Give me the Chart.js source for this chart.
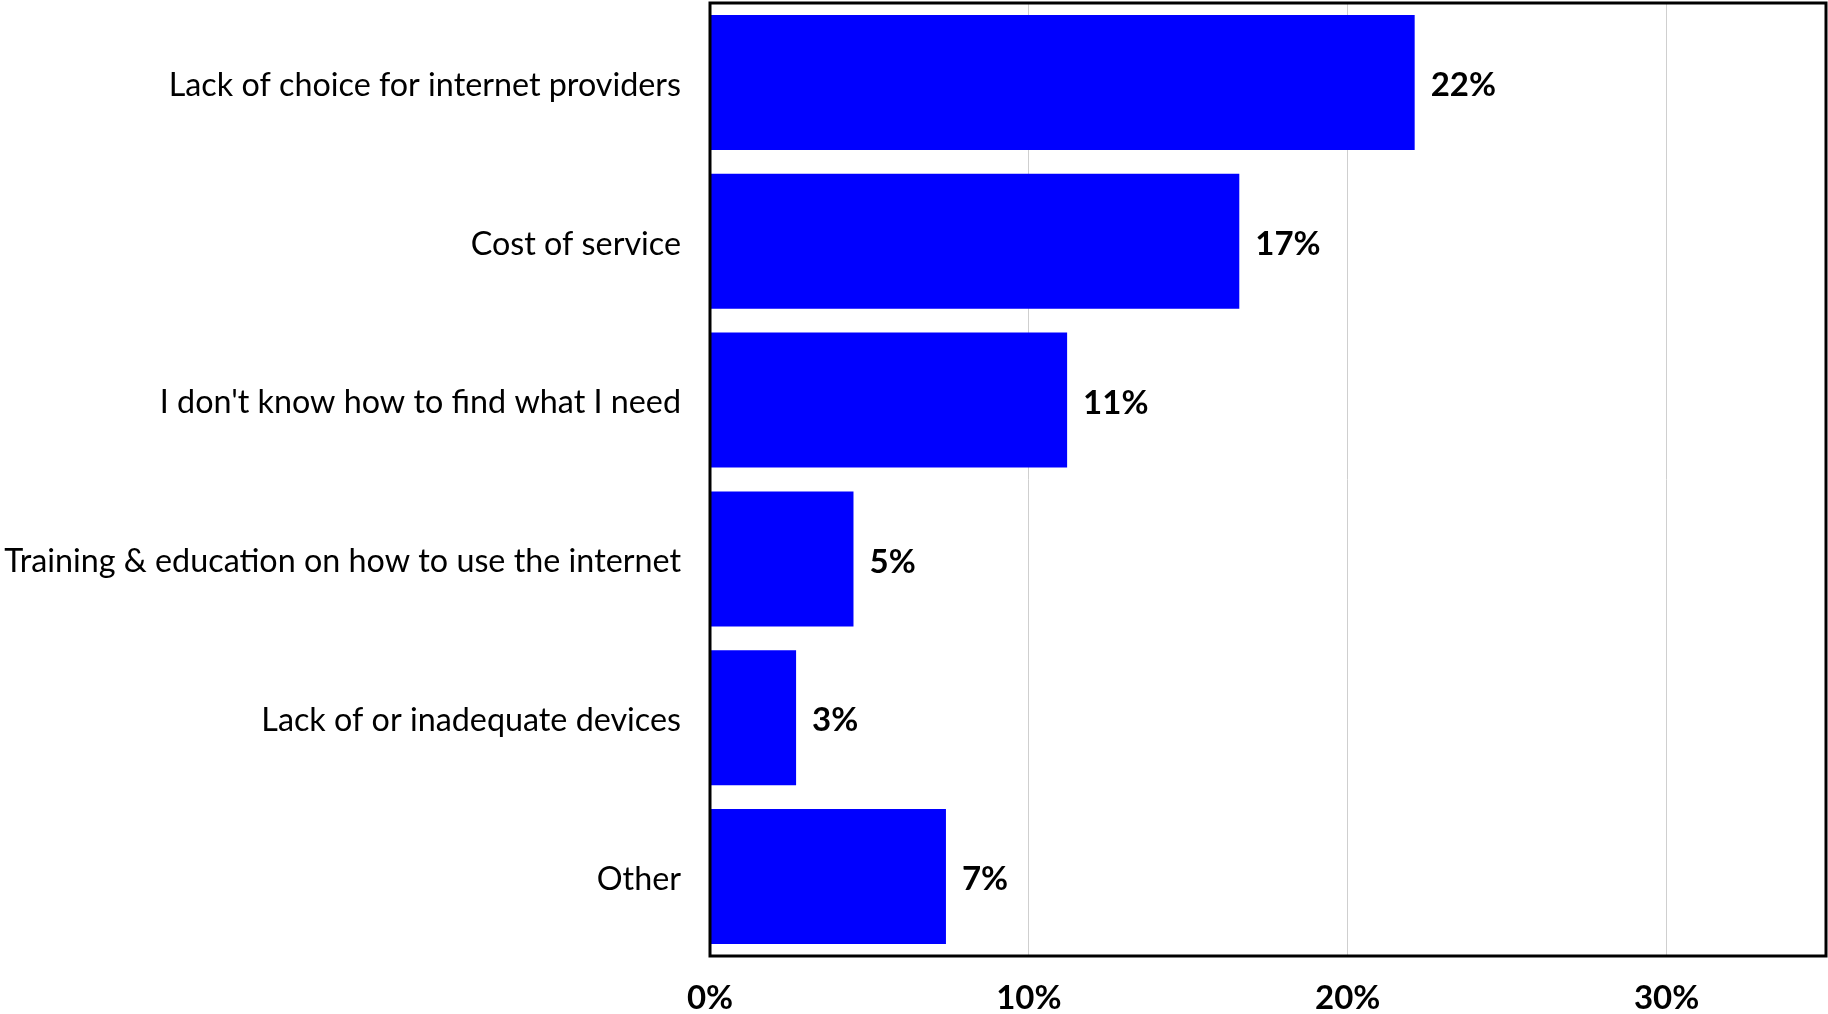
<!DOCTYPE html>
<html>
<head>
<meta charset="utf-8">
<script src="https://cdn.jsdelivr.net/npm/chart.js@4.4.1/dist/chart.umd.min.js"></script>
<style>
  html, body { margin: 0; padding: 0; background: #ffffff; }
  #wrap { width: 1828px; height: 1014px; position: relative; }
</style>
</head>
<body>
<div id="wrap"><canvas id="c" width="1828" height="1014"></canvas></div>
<script>
const categories = [
  "Lack of choice for internet providers",
  "Cost of service",
  "I don't know how to find what I need",
  "Training & education on how to use the internet",
  "Lack of or inadequate devices",
  "Other"
];
const shares = [22.1, 16.6, 11.2, 4.5, 2.7, 7.4];
const xTicks = [0, 10, 20, 30];
const xMax = 35;

const frame = {
  id: 'frame',
  afterDraw(chart) {
    const a = chart.chartArea, ctx = chart.ctx;
    ctx.save();
    ctx.strokeStyle = '#000000';
    ctx.lineWidth = 3;
    ctx.strokeRect(a.left, a.top, a.right - a.left, a.bottom - a.top);
    ctx.restore();
  }
};

const valueLabels = {
  id: 'valueLabels',
  afterDatasetsDraw(chart) {
    const ctx = chart.ctx;
    const meta = chart.getDatasetMeta(0);
    ctx.save();
    ctx.font = 'bold 33px Lato';
    ctx.fillStyle = '#000000';
    ctx.textAlign = 'left';
    ctx.textBaseline = 'middle';
    meta.data.forEach((bar, i) => {
      ctx.fillText(Math.round(shares[i]) + '%', bar.x + 16, bar.y + 3);
    });
    ctx.restore();
  }
};

new Chart(document.getElementById('c'), {
  type: 'bar',
  data: {
    labels: categories,
    datasets: [{
      data: shares,
      backgroundColor: '#0000ff',
      borderWidth: 0,
      categoryPercentage: 0.85,
      barPercentage: 1.0
    }]
  },
  options: {
    indexAxis: 'y',
    responsive: false,
    animation: false,
    devicePixelRatio: 1,
    layout: { padding: { top: 3, right: 2, left: 0, bottom: 0 } },
    plugins: { legend: { display: false }, tooltip: { enabled: false } },
    scales: {
      x: {
        min: 0,
        max: xMax,
        afterBuildTicks(scale) {
          scale.ticks = xTicks.map(v => ({ value: v }));
        },
        afterFit(scale) { scale.height = 58; },
        grid: { color: '#cfcfcf', lineWidth: 1, drawTicks: false },
        border: { display: false },
        ticks: {
          padding: 23,
          color: '#000000',
          font: { family: 'Lato', size: 33, weight: 'bold' },
          callback: v => v + '%'
        }
      },
      y: {
        afterFit(scale) {
          scale.width = 710;
          scale.paddingTop = 0;
          scale.paddingBottom = 0;
        },
        grid: { display: false, drawTicks: false },
        border: { display: false },
        ticks: {
          padding: 29,
          labelOffset: 3,
          color: '#000000',
          font: { family: 'Lato', size: 32.3 }
        }
      }
    }
  },
  plugins: [frame, valueLabels]
});
</script>
</body>
</html>
